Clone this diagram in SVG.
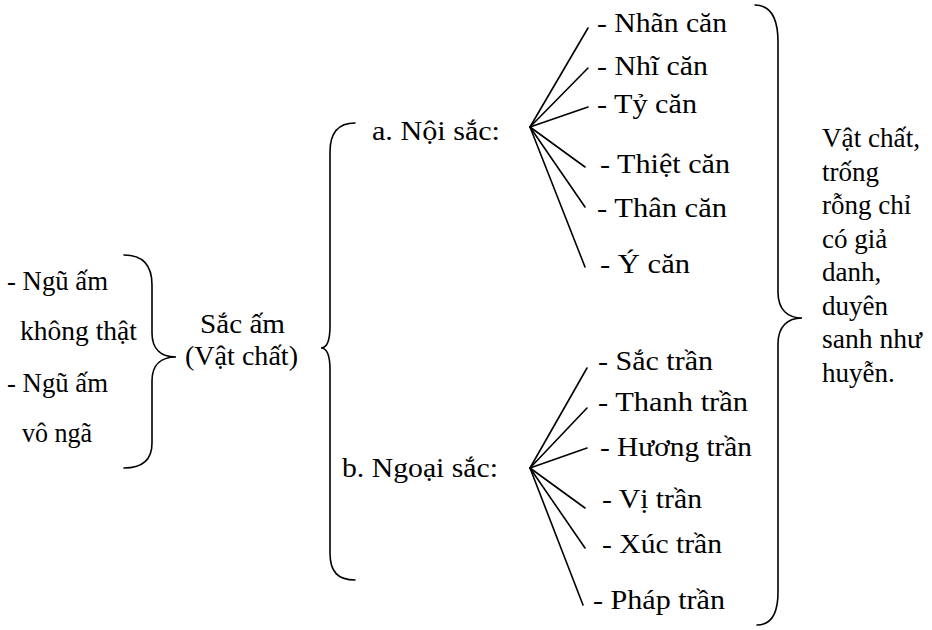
<svg xmlns="http://www.w3.org/2000/svg" width="932" height="630" viewBox="0 0 932 630">
<style>
text{font-family:'Liberation Serif','Times New Roman',serif;font-size:28px;fill:#000}
.sm{font-size:27px}
.ln{stroke:#000;stroke-width:1.6;fill:none;stroke-linecap:round}
</style>
<rect width="932" height="630" fill="#fff"/>
<g id="connectors">
  <path class="ln" d="M124,255 C140,255 152,262 152,285 L152,333 C152,350 162,357 176,357 C162,357 152,364 152,381 L152,443 C152,462 140,468 124,468"/>
  <path class="ln" d="M355,123 C338,123 330,133 330,152 L330,326 C330,342 326,348 321,348 C326,348 330,354 330,370 L330,553 C330,572 338,580 355,580"/>
  <path class="ln" d="M755,5 C770,5 778,16 778,42 L778,292 C778,310 788,318 802,318 C788,318 778,326 778,344 L778,592 C778,616 770,625 757,625"/>
  <g id="fan-a">
    <line class="ln" x1="530" y1="127" x2="588" y2="28"/>
    <line class="ln" x1="530" y1="127" x2="588" y2="68"/>
    <line class="ln" x1="530" y1="127" x2="588" y2="107"/>
    <line class="ln" x1="530" y1="127" x2="585" y2="167"/>
    <line class="ln" x1="530" y1="127" x2="585" y2="207"/>
    <line class="ln" x1="530" y1="127" x2="585" y2="267"/>
  </g>
  <g id="fan-b">
    <line class="ln" x1="530" y1="468" x2="587" y2="368"/>
    <line class="ln" x1="530" y1="468" x2="587" y2="408"/>
    <line class="ln" x1="530" y1="468" x2="587" y2="448"/>
    <line class="ln" x1="530" y1="468" x2="585" y2="508"/>
    <line class="ln" x1="530" y1="468" x2="585" y2="548"/>
    <line class="ln" x1="530" y1="468" x2="583" y2="605"/>
  </g>
</g>
<g id="left-notes">
  <text class="sm" x="7" y="290" textLength="101" lengthAdjust="spacingAndGlyphs">- Ngũ ấm</text>
  <text class="sm" x="20" y="340" textLength="117" lengthAdjust="spacingAndGlyphs">không thật</text>
  <text class="sm" x="7" y="392" textLength="101" lengthAdjust="spacingAndGlyphs">- Ngũ ấm</text>
  <text class="sm" x="22" y="442" textLength="70" lengthAdjust="spacingAndGlyphs">vô ngã</text>
</g>
<g id="sac-am">
  <text x="200" y="333" textLength="85" lengthAdjust="spacingAndGlyphs">Sắc ấm</text>
  <text x="185" y="365" textLength="113" lengthAdjust="spacingAndGlyphs">(Vật chất)</text>
</g>
<g id="noi-sac">
  <text x="372" y="140" textLength="128" lengthAdjust="spacingAndGlyphs">a. Nội sắc:</text>
</g>
<g id="ngoai-sac">
  <text x="342" y="477" textLength="156" lengthAdjust="spacingAndGlyphs">b. Ngoại sắc:</text>
</g>
<g id="can">
  <text x="597" y="32" textLength="130" lengthAdjust="spacingAndGlyphs">- Nhãn căn</text>
  <text x="597" y="75" textLength="111" lengthAdjust="spacingAndGlyphs">- Nhĩ căn</text>
  <text x="597" y="113" textLength="100" lengthAdjust="spacingAndGlyphs">- Tỷ căn</text>
  <text x="600" y="173" textLength="130" lengthAdjust="spacingAndGlyphs">- Thiệt căn</text>
  <text x="597" y="217" textLength="130" lengthAdjust="spacingAndGlyphs">- Thân căn</text>
  <text x="600" y="273" textLength="90" lengthAdjust="spacingAndGlyphs">- Ý căn</text>
</g>
<g id="tran">
  <text x="598" y="370" textLength="115" lengthAdjust="spacingAndGlyphs">- Sắc trần</text>
  <text x="598" y="411" textLength="150" lengthAdjust="spacingAndGlyphs">- Thanh trần</text>
  <text x="600" y="456" textLength="152" lengthAdjust="spacingAndGlyphs">- Hương trần</text>
  <text x="602" y="508" textLength="100" lengthAdjust="spacingAndGlyphs">- Vị trần</text>
  <text x="602" y="553" textLength="120" lengthAdjust="spacingAndGlyphs">- Xúc trần</text>
  <text x="593" y="609" textLength="132" lengthAdjust="spacingAndGlyphs">- Pháp trần</text>
</g>
<g id="conclusion">
  <text class="sm" x="822" y="147" textLength="98" lengthAdjust="spacingAndGlyphs">Vật chất,</text>
  <text class="sm" x="822" y="181">trống</text>
  <text class="sm" x="822" y="214">rỗng chỉ</text>
  <text class="sm" x="822" y="248">có giả</text>
  <text class="sm" x="822" y="281">danh,</text>
  <text class="sm" x="822" y="315">duyên</text>
  <text class="sm" x="822" y="348" textLength="100" lengthAdjust="spacingAndGlyphs">sanh như</text>
  <text class="sm" x="822" y="382">huyễn.</text>
</g>
</svg>
